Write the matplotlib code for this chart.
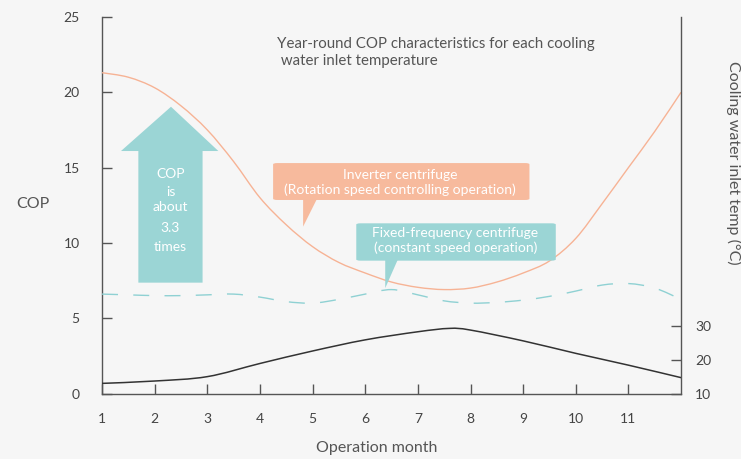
import matplotlib
matplotlib.use("Agg")
import matplotlib.pyplot as plt
from matplotlib.patches import Polygon, FancyBboxPatch, PathPatch
from matplotlib.path import Path

# ---- data ----
months = [1, 1.5, 2, 2.5, 3, 3.5, 4, 4.5, 5, 5.5, 6, 6.5, 7, 7.5, 8, 8.5,
          9, 9.5, 10, 10.5, 11, 11.5, 12]
cop_inverter = [21.3, 21.0, 20.3, 19.1, 17.5, 15.4, 13.0, 11.2, 9.75, 8.7, 8.0, 7.4,
                7.05, 6.9, 7.0, 7.4, 8.0, 8.8, 10.3, 12.6, 15.0, 17.4, 20.0]
cop_fixed = [6.6, 6.55, 6.5, 6.5, 6.55, 6.6, 6.4, 6.1, 6.0, 6.25, 6.6, 6.9,
             6.55, 6.15, 6.0, 6.05, 6.2, 6.45, 6.8, 7.2, 7.3, 7.0, 6.25]
temp_months = [1, 2, 3, 4, 5, 6, 7, 7.6, 8, 9, 10, 11, 12]
water_temp = [13.0, 13.7, 15.0, 18.9, 22.6, 25.9, 28.3, 29.3, 28.8, 25.6, 21.9, 18.4, 14.7]

month_ticks = list(range(1, 12))
cop_ticks = [0, 5, 10, 15, 20, 25]
temp_ticks = [10, 20, 30]

BG = "#f6f6f6"
AXIS = "#555555"
TXT = "#555555"
ORANGE_LINE = "#f6b395"
ORANGE_BOX = "#f7ba9d"
TEAL_LINE = "#8fd1d3"
TEAL_BOX = "#9bd5d5"
FONT = "Lato"

plt.rcParams["font.family"] = [FONT, "DejaVu Sans"]


def smooth_path(xs, ys):
    """
    Bezier path through the points (Catmull-Rom tangents), so the
    drawn curve is round like the reference instead of a polyline.
    """
    verts = [(xs[0], ys[0])]
    codes = [Path.MOVETO]
    n = len(xs)
    for i in range(n - 1):
        x0, y0 = xs[max(i - 1, 0)], ys[max(i - 1, 0)]
        x1, y1 = xs[i], ys[i]
        x2, y2 = xs[i + 1], ys[i + 1]
        x3, y3 = xs[min(i + 2, n - 1)], ys[min(i + 2, n - 1)]
        c1 = (x1 + (x2 - x0) / 6.0, y1 + (y2 - y0) / 6.0)
        c2 = (x2 - (x3 - x1) / 6.0, y2 - (y3 - y1) / 6.0)
        verts += [c1, c2, (x2, y2)]
        codes += [Path.CURVE4] * 3
    return Path(verts, codes)


fig = plt.figure(figsize=(7.41, 4.59), dpi=100, facecolor=BG)
ax = fig.add_axes([0.1377, 0.1427, 0.7814, 0.8203])
ax.set_facecolor(BG)

ax.add_patch(PathPatch(smooth_path(months, cop_inverter), facecolor="none",
                       edgecolor=ORANGE_LINE, lw=1.0, zorder=3))
ax.add_patch(PathPatch(smooth_path(months, cop_fixed), facecolor="none",
                       edgecolor=TEAL_LINE, lw=1.0, linestyle=(0, (11.5, 11)), zorder=3))

ax.set_xlim(1, 12)
ax.set_ylim(0, 25)
ax.set_xticks(month_ticks)
ax.set_yticks(cop_ticks)
for s in ["top", "right"]:
    ax.spines[s].set_visible(False)
for s in ["left", "bottom"]:
    ax.spines[s].set_color(AXIS)
    ax.spines[s].set_linewidth(1.0)
ax.tick_params(axis="both", direction="in", length=7, width=1.0, color=AXIS,
               labelcolor="#444444", labelsize=10)
ax.tick_params(axis="y", pad=16)
ax.tick_params(axis="x", pad=14)

# right axis: cooling water temperature
ax2 = ax.twinx()
ax2.set_ylim(10, 121.6)
ax2.add_patch(PathPatch(smooth_path(temp_months, water_temp), facecolor="none",
                        edgecolor="#333333", lw=1.1, zorder=3))
ax2.set_yticks(temp_ticks)
for s in ["top", "left", "bottom"]:
    ax2.spines[s].set_visible(False)
ax2.spines["right"].set_color(AXIS)
ax2.spines["right"].set_linewidth(1.0)
ax2.tick_params(axis="y", direction="in", length=7, width=1.0, color=AXIS,
                labelcolor="#444444", labelsize=10, pad=10)

# axis labels
fig.text(33 / 741, 1 - 204 / 459, "COP", color=TXT, fontsize=11.5, ha="center", va="center")
fig.text(377 / 741, 1 - 448 / 459, "Operation month", color=TXT, fontsize=11.5,
         ha="center", va="center")
fig.text(734 / 741, 1 - 163 / 459, "Cooling water inlet temp (°C)", color=TXT,
         fontsize=11.5, rotation=270, ha="center", va="center")
fig.text(277 / 741, 1 - 37 / 459,
         "Year-round COP characteristics for each cooling\n water inlet temperature",
         color=TXT, fontsize=10.8, ha="left", va="top", linespacing=1.3)

# big up arrow
arrow = Polygon([(1.69, 7.36), (2.91, 7.36), (2.91, 16.1), (3.21, 16.1),
                 (2.31, 19.04), (1.36, 16.1), (1.69, 16.1)],
                closed=True, facecolor=TEAL_BOX, edgecolor="none", zorder=2)
ax.add_patch(arrow)
for word, yy in [("COP", 14.6), ("is", 13.4), ("about", 12.4), ("3.3", 11.0), ("times", 9.7)]:
    ax.text(2.3, yy, word, color="white", fontsize=10, ha="center", va="center", zorder=4)

# callout: inverter
ax.add_patch(FancyBboxPatch((4.25, 12.85), 4.87, 2.45,
                            boxstyle="round,pad=0,rounding_size=0.08",
                            facecolor=ORANGE_BOX, edgecolor="none", zorder=4))
ax.add_patch(Polygon([(4.82, 12.9), (5.08, 12.9), (4.82, 11.08)], closed=True,
                     facecolor=ORANGE_BOX, edgecolor="none", zorder=4))
ax.text(6.66, 14.5, "Inverter centrifuge", color="white", fontsize=10,
        ha="center", va="center", zorder=5)
ax.text(6.66, 13.55, "(Rotation speed controlling operation)", color="white",
        fontsize=10, ha="center", va="center", zorder=5)

# callout: fixed frequency
ax.add_patch(FancyBboxPatch((5.83, 8.82), 3.79, 2.48,
                            boxstyle="round,pad=0,rounding_size=0.08",
                            facecolor=TEAL_BOX, edgecolor="none", zorder=4))
ax.add_patch(Polygon([(6.38, 8.9), (6.62, 8.9), (6.38, 7.0)], closed=True,
                     facecolor=TEAL_BOX, edgecolor="none", zorder=4))
ax.text(7.71, 10.63, "Fixed-frequency centrifuge", color="white", fontsize=10,
        ha="center", va="center", zorder=5)
ax.text(7.71, 9.7, "(constant speed operation)", color="white", fontsize=10,
        ha="center", va="center", zorder=5)

fig.savefig("out.png", dpi=100, facecolor=BG)
